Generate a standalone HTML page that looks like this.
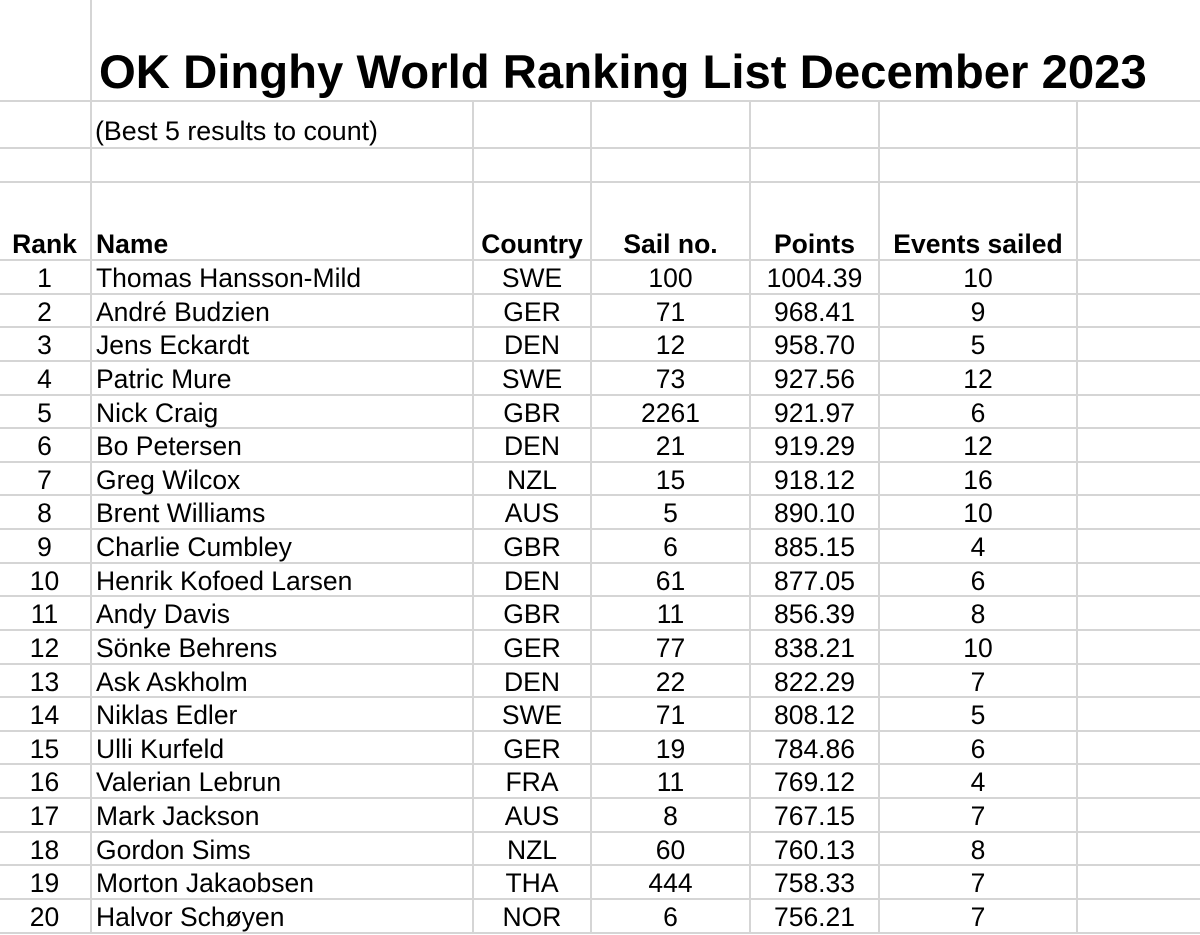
<!DOCTYPE html>
<html><head><meta charset="utf-8"><style>
html,body{margin:0;padding:0;background:#fff;}
body{width:1200px;height:933px;position:relative;overflow:hidden;font-family:"Liberation Sans",Arial,Helvetica,sans-serif;color:#000;}
.h{position:absolute;left:0;width:1200px;height:2px;background:#d5d5d5;}
.v{position:absolute;width:2px;background:#d5d5d5;}
.t{position:absolute;white-space:nowrap;}
.row{position:absolute;left:0;width:1200px;height:33.63px;font-size:26.5px;line-height:33.63px;box-sizing:border-box;}
.row span,.hdr span{position:absolute;top:0;white-space:nowrap;}
.row span{top:2px;}
.c0{left:0;width:89px;text-align:center;}
.c1{left:96px;}
.c2{left:473px;width:118px;text-align:center;}
.c3{left:591px;width:159px;text-align:center;}
.c4{left:750px;width:129px;text-align:center;}
.c5{left:879px;width:198px;text-align:center;}
.hdr{position:absolute;left:0;top:229px;width:1200px;height:30px;font-size:26.5px;line-height:30px;font-weight:bold;}
</style></head><body>
<!-- horizontal lines -->
<div class="h" style="top:100px"></div>
<div class="h" style="top:147px"></div>
<div class="h" style="top:181px"></div>
<div class="h" style="top:259px"></div>
<div class="h" style="top:292.63px"></div>
<div class="h" style="top:326.26px"></div>
<div class="h" style="top:359.89px"></div>
<div class="h" style="top:393.52px"></div>
<div class="h" style="top:427.15px"></div>
<div class="h" style="top:460.78px"></div>
<div class="h" style="top:494.41px"></div>
<div class="h" style="top:528.04px"></div>
<div class="h" style="top:561.67px"></div>
<div class="h" style="top:595.3px"></div>
<div class="h" style="top:628.93px"></div>
<div class="h" style="top:662.56px"></div>
<div class="h" style="top:696.19px"></div>
<div class="h" style="top:729.82px"></div>
<div class="h" style="top:763.45px"></div>
<div class="h" style="top:797.08px"></div>
<div class="h" style="top:830.71px"></div>
<div class="h" style="top:864.34px"></div>
<div class="h" style="top:897.97px"></div>
<div class="h" style="top:931.6px"></div>
<!-- vertical lines -->
<div class="v" style="left:90px;top:0;height:933px"></div>
<div class="v" style="left:472px;top:101px;height:832px"></div>
<div class="v" style="left:590px;top:101px;height:832px"></div>
<div class="v" style="left:749px;top:101px;height:832px"></div>
<div class="v" style="left:878px;top:101px;height:832px"></div>
<div class="v" style="left:1076px;top:101px;height:832px"></div>

<div class="t" style="left:99px;top:48px;font-size:47.3px;line-height:50px;font-weight:bold;">OK Dinghy World Ranking List December 2023</div>
<div class="t" style="left:95px;top:116px;font-size:26.8px;line-height:30px;">(Best 5 results to count)</div>

<div class="hdr"><span class="c0">Rank</span><span class="c1">Name</span><span class="c2">Country</span><span class="c3">Sail no.</span><span class="c4">Points</span><span class="c5">Events sailed</span></div>

<div class="row" style="top:260px"><span class="c0">1</span><span class="c1">Thomas Hansson-Mild</span><span class="c2">SWE</span><span class="c3">100</span><span class="c4">1004.39</span><span class="c5">10</span></div>
<div class="row" style="top:293.63px"><span class="c0">2</span><span class="c1">André Budzien</span><span class="c2">GER</span><span class="c3">71</span><span class="c4">968.41</span><span class="c5">9</span></div>
<div class="row" style="top:327.26px"><span class="c0">3</span><span class="c1">Jens Eckardt</span><span class="c2">DEN</span><span class="c3">12</span><span class="c4">958.70</span><span class="c5">5</span></div>
<div class="row" style="top:360.89px"><span class="c0">4</span><span class="c1">Patric Mure</span><span class="c2">SWE</span><span class="c3">73</span><span class="c4">927.56</span><span class="c5">12</span></div>
<div class="row" style="top:394.52px"><span class="c0">5</span><span class="c1">Nick Craig</span><span class="c2">GBR</span><span class="c3">2261</span><span class="c4">921.97</span><span class="c5">6</span></div>
<div class="row" style="top:428.15px"><span class="c0">6</span><span class="c1">Bo Petersen</span><span class="c2">DEN</span><span class="c3">21</span><span class="c4">919.29</span><span class="c5">12</span></div>
<div class="row" style="top:461.78px"><span class="c0">7</span><span class="c1">Greg Wilcox</span><span class="c2">NZL</span><span class="c3">15</span><span class="c4">918.12</span><span class="c5">16</span></div>
<div class="row" style="top:495.41px"><span class="c0">8</span><span class="c1">Brent Williams</span><span class="c2">AUS</span><span class="c3">5</span><span class="c4">890.10</span><span class="c5">10</span></div>
<div class="row" style="top:529.04px"><span class="c0">9</span><span class="c1">Charlie Cumbley</span><span class="c2">GBR</span><span class="c3">6</span><span class="c4">885.15</span><span class="c5">4</span></div>
<div class="row" style="top:562.67px"><span class="c0">10</span><span class="c1">Henrik Kofoed Larsen</span><span class="c2">DEN</span><span class="c3">61</span><span class="c4">877.05</span><span class="c5">6</span></div>
<div class="row" style="top:596.3px"><span class="c0">11</span><span class="c1">Andy Davis</span><span class="c2">GBR</span><span class="c3">11</span><span class="c4">856.39</span><span class="c5">8</span></div>
<div class="row" style="top:629.93px"><span class="c0">12</span><span class="c1">Sönke Behrens</span><span class="c2">GER</span><span class="c3">77</span><span class="c4">838.21</span><span class="c5">10</span></div>
<div class="row" style="top:663.56px"><span class="c0">13</span><span class="c1">Ask Askholm</span><span class="c2">DEN</span><span class="c3">22</span><span class="c4">822.29</span><span class="c5">7</span></div>
<div class="row" style="top:697.19px"><span class="c0">14</span><span class="c1">Niklas Edler</span><span class="c2">SWE</span><span class="c3">71</span><span class="c4">808.12</span><span class="c5">5</span></div>
<div class="row" style="top:730.82px"><span class="c0">15</span><span class="c1">Ulli Kurfeld</span><span class="c2">GER</span><span class="c3">19</span><span class="c4">784.86</span><span class="c5">6</span></div>
<div class="row" style="top:764.45px"><span class="c0">16</span><span class="c1">Valerian Lebrun</span><span class="c2">FRA</span><span class="c3">11</span><span class="c4">769.12</span><span class="c5">4</span></div>
<div class="row" style="top:798.08px"><span class="c0">17</span><span class="c1">Mark Jackson</span><span class="c2">AUS</span><span class="c3">8</span><span class="c4">767.15</span><span class="c5">7</span></div>
<div class="row" style="top:831.71px"><span class="c0">18</span><span class="c1">Gordon Sims</span><span class="c2">NZL</span><span class="c3">60</span><span class="c4">760.13</span><span class="c5">8</span></div>
<div class="row" style="top:865.34px"><span class="c0">19</span><span class="c1">Morton Jakaobsen</span><span class="c2">THA</span><span class="c3">444</span><span class="c4">758.33</span><span class="c5">7</span></div>
<div class="row" style="top:898.97px"><span class="c0">20</span><span class="c1">Halvor Schøyen</span><span class="c2">NOR</span><span class="c3">6</span><span class="c4">756.21</span><span class="c5">7</span></div>
</body></html>
